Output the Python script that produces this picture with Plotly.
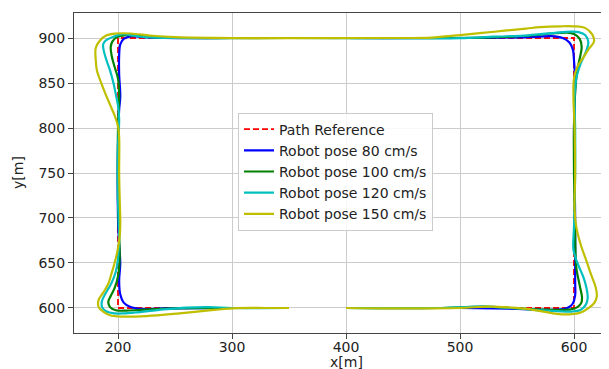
import plotly.graph_objects as go

# Reference path (counter-clockwise, starting at (400,600))
ref_x = [400, 600, 600, 200, 200, 350]
ref_y = [600, 600, 900, 900, 600, 600]

# Robot pose 80 cm/s
b_x = [400,500,550,575,588,595,599,601,601,601,600,601,600,599,596,590,580,560,500,400,300,240,222,212,205,202,201,201,202,201,200,200,201,202,201,202,205,211,220,240,300,350]
b_y = [600,600,599,598,598.5,600.5,605,614,630,700,800,850,875,887,895,900,902,901,900,900,900,900,901,902,899,893,880,860,835,820,780,700,670,650,630,615,606,601,599,599.5,600,600]

# Robot pose 100 cm/s
g_x = [400,480,520,545,565,585,597,603,606.5,607,605,602,601,600,600,601,603,605.5,606.7,605,600,594,580,560,520,450,350,260,230,215,207,199,195,193.6,194.5,197,200,201,200,200,201,201.5,200,197,193.5,191.5,193,198,207,220,250,300,350]
g_y = [600,600,601.5,600,598.5,598,598.5,601,606,612,625,645,680,750,800,840,865,880,890,899,904.5,906,905,902.5,900.5,900,900,900,901,902.5,903.3,901,896,890,880,868,855,835,800,720,680,655,635,622,613,607,601,597.5,597,598,599.5,600,600]

# Robot pose 120 cm/s
c_x = [400,480,520,545,565,585,598,606,610.5,612,611,608,603,599.5,600,601,601,600.5,602,606,610.5,612.6,610,604,597,585,560,530,500,470,400,300,250,225,212,204.7,196,189,187,187.5,190,193,196,198,200,201,200,200,201,200,198,194,189,186,186,190,197,205,215,240,260,280,300,350]
c_y = [600,600,601.5,600,598,596.5,596,598,604,611,622,635,650,665,690,750,800,835,855,872,885,895,903,906.5,907,906,903,901.5,899.8,899.6,900,900,900,901,903,904.4,901.5,897,893,886,875,864,850,838,825,810,780,720,680,655,640,627,616,608,601,596,594,594,595,598.5,600.5,601,600,600]

# Robot pose 150 cm/s
y_x = [400,450,500,525,545,559,573,585,596,606,613,618,620,619,615,611,606,602,600.5,601,600.5,599.5,600,603,608,613,617.5,616,610,600,588,570,558,530,500,475,450,400,300,250,230,211,198,190,184,180.5,180.5,181.5,185,189,193,197,200,201,201,201.5,202,201.5,199.5,197,194,191.5,187,183,183,187,193,202,225,254,284,304,330,350]
y_y = [600,599.5,600,601.5,600.5,599,596,593.5,593,595,600,606,613,623,637,652,670,690,710,750,800,835,855,868,878,888,896,904,911,913,913,912,910.5,907,903.3,900.5,900,900,900,901,902.5,905,905,903,897,889,875,864,851,838,826,814,802,790,750,720,695,680,663,650,637,627,617,609,601,596,592,590.5,591,594,597.8,599.8,600,600]

x_ticks = [200, 300, 400, 500, 600]
y_ticks = [600, 650, 700, 750, 800, 850, 900]

FONT = "DejaVu Sans, sans-serif"

# The page body has an 8px default margin, so the figure is offset by 8px.
OFF = 8
FIG_W, FIG_H = 609 - OFF, 369 - OFF
PL, PT, PW, PH = 74, 13, 535, 320  # target plot area in window pixels

fig = go.Figure()
fig.add_trace(go.Scatter(x=ref_x, y=ref_y, mode="lines", name="Path Reference",
                         line=dict(color="#ff0000", width=1.8, dash="6px,3px")))
series = [
    ("Robot pose 80 cm/s", b_x, b_y, "#0000ff"),
    ("Robot pose 100 cm/s", g_x, g_y, "#008000"),
    ("Robot pose 120 cm/s", c_x, c_y, "#00bfbf"),
    ("Robot pose 150 cm/s", y_x, y_y, "#bfbf00"),
]
for name, xs, ys, col in series:
    fig.add_trace(go.Scatter(x=xs, y=ys, mode="lines", name=name,
                             line=dict(color=col, width=2.2, shape="spline", smoothing=1.0)))

axis_common = dict(
    showline=True, linecolor="#444", linewidth=1,
    ticks="outside", ticklen=5, tickcolor="#444", tickwidth=1,
    showgrid=True, gridcolor="#cccccc", gridwidth=1,
    zeroline=False, automargin=False,
    tickfont=dict(family=FONT, size=14, color="#222"),
)
fig.update_layout(
    width=FIG_W, height=FIG_H,
    margin=dict(l=PL - OFF, r=FIG_W - (PL - OFF) - PW, t=PT - OFF, b=FIG_H - (PT - OFF) - PH, pad=0),
    paper_bgcolor="white", plot_bgcolor="white",
    font=dict(family=FONT, size=14, color="#222"),
    showlegend=True,
    legend=dict(x=(238 - PL) / PW, y=1 - (171.5 - PT) / PH, xanchor="left", yanchor="middle",
                bgcolor="rgba(255,255,255,0.85)", bordercolor="#cccccc", borderwidth=1,
                font=dict(family=FONT, size=14, color="#222"),
                itemwidth=30, tracegroupgap=0),
    xaxis=dict(range=[161.4, 630.7], tickvals=x_ticks, mirror=True, ticklabelstandoff=-4,
               **axis_common),
    yaxis=dict(range=[572.2, 927.8], tickvals=y_ticks, mirror=False, **axis_common),
    annotations=[
        dict(text="x[m]", x=(346 - PL) / PW, y=-(362 - (PT + PH)) / PH, xref="paper", yref="paper",
             showarrow=False, xanchor="center", yanchor="middle",
             font=dict(family=FONT, size=14, color="#222")),
        dict(text="y[m]", x=(18 - PL) / PW, y=1 - (173 - PT) / PH, xref="paper", yref="paper",
             showarrow=False, textangle=-90, xanchor="center", yanchor="middle",
             font=dict(family=FONT, size=14, color="#222")),
    ],
)
fig.write_html("out.html")
